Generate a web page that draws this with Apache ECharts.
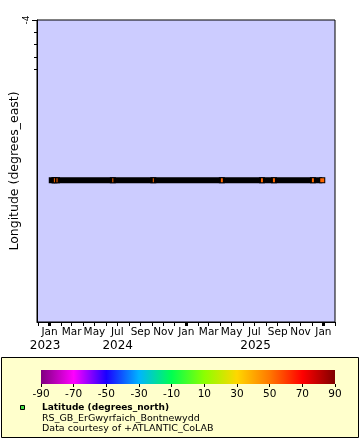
<!DOCTYPE html>
<html>
<head>
<meta charset="utf-8">
<script src="https://cdn.jsdelivr.net/npm/echarts@6/dist/echarts.min.js"></script>
<style>html,body{margin:0;padding:0;background:#fff}#c{width:360px;height:440px}</style>
</head>
<body>
<div id="c"></div>
<script>
// ---- data ----
const obsDates = ['2023-01-07','2023-01-14','2023-01-21','2023-06-19','2023-10-05','2024-04-05','2024-07-21','2024-08-22','2024-12-04','2024-12-29'];
const obsLongitude = [-4.13,-4.13,-4.13,-4.13,-4.13,-4.13,-4.13,-4.13,-4.13,-4.13];
const obsLatitude = [53.1,53.1,53.1,53.1,53.1,53.1,53.1,53.1,53.1,53.1];
const monthTickDates = ['2023-01-01','2023-03-01','2023-05-01','2023-07-01','2023-09-01','2023-11-01','2024-01-01','2024-03-01','2024-05-01','2024-07-01','2024-09-01','2024-11-01','2025-01-01'];
const monthTickLabels = ['Jan','Mar','May','Jul','Sep','Nov','Jan','Mar','May','Jul','Sep','Nov','Jan'];
const yearLabelDates = ['2022-12-20','2023-07-02','2024-07-04'];
const yearLabels = ['2023','2024','2025'];
const lonTickValues = [-4];
const lonTickLabels = ['-4'];
const lonMinorTicks = [-4.01,-4.02,-4.03,-4.04];
const colorbarTicks = [-90,-70,-50,-30,-10,10,30,50,70,90];
const colorbarColors = ['#800080','#ff00ff','#1a00ff','#00b4ff','#00ff50','#8cff00','#ffd700','#ff7800','#ff0000','#800000'];
const legendTitle = 'Latitude (degrees_north)';
const legendLines = ['RS_GB_ErGwyrfaich_Bontnewydd','Data courtesy of +ATLANTIC_CoLAB'];
const yName = 'Longitude (degrees_east)';

// ---- styles (not data) ----
const gapMarkWidth = [0,1,1,1,1,2,2,2,2,4];
const FONT = 'DejaVu Sans';

const parse = s => { const p = s.split('-').map(Number); return Date.UTC(p[0], p[1]-1, p[2]||1); };
const xMin = Date.UTC(2022, 10, 28, 14);
const xMax = parse('2025-02-01');
// monthly minor ticks (axis config)
const monthlyTicks = [];
for (let y = 2022, m = 11; ; ) { const t = Date.UTC(y, m, 1); if (t > xMax) break; if (t >= xMin) monthlyTicks.push(t); m++; if (m > 11) { m = 0; y++; } }
const janTicks = monthTickDates.filter((d,i)=>monthTickLabels[i]==='Jan').map(parse);
const monthVals = monthTickDates.map(parse);
const yearVals = yearLabelDates.map(parse);

const lineData = obsDates.map((d,i)=>[parse(d), obsLongitude[i]]);
const orangeData = [];
obsDates.forEach((d,i)=>{ if (gapMarkWidth[i] > 0) orangeData.push({value:[parse(d), obsLongitude[i], obsLatitude[i]], w: gapMarkWidth[i]}); });

const chart = echarts.init(document.getElementById('c'), null, {renderer:'canvas'});
const stops = colorbarColors.map((c,i)=>({offset: i/(colorbarColors.length-1), color: c}));

chart.setOption({
  animation: false,
  textStyle: {fontFamily: FONT, color: '#000'},
  grid: [
    {left: 37, right: 25, top: 20, height: 302, show: true, backgroundColor: '#ccccff', borderColor: '#000', borderWidth: 1, containLabel: false, outerBoundsMode: 'none'},
    {left: 41, right: 25, top: 370, height: 14, show: false, containLabel: false, outerBoundsMode: 'none'}
  ],
  xAxis: [
    {type: 'value', gridIndex: 0, min: xMin, max: xMax, position: 'bottom', scale: true,
     axisLine: {show: true, onZero: false, lineStyle: {color: '#000', width: 1}},
     splitLine: {show: false},
     axisTick: {show: true, customValues: monthlyTicks, length: 4, lineStyle: {color: '#000', width: 1}},
     axisLabel: {show: true, customValues: monthVals, fontFamily: FONT, fontSize: 10.5, color: '#000', margin: 5,
       formatter: v => { const i = monthVals.indexOf(v); return i >= 0 ? monthTickLabels[i] : ''; }}},
    {type: 'value', gridIndex: 0, min: xMin, max: xMax, position: 'bottom', scale: true,
     axisLine: {show: false, onZero: false}, splitLine: {show: false},
     axisTick: {show: true, customValues: janTicks, length: 4, lineStyle: {color: '#000', width: 3}},
     axisLabel: {show: true, customValues: yearVals, fontFamily: FONT, fontSize: 12, color: '#000', margin: 18,
       formatter: v => { const i = yearVals.indexOf(v); return i >= 0 ? yearLabels[i] : ''; }}},
    {type: 'value', gridIndex: 1, min: -90, max: 90, interval: 20,
     axisLine: {show: false}, splitLine: {show: false},
     axisTick: {show: true, length: 3, lineStyle: {color: '#000', width: 1}},
     axisLabel: {fontFamily: FONT, fontSize: 10.5, color: '#000', margin: 5}}
  ],
  yAxis: [
    {type: 'value', gridIndex: 0, min: -4.245, max: -4, position: 'left', scale: true,
     name: yName, nameLocation: 'middle', nameGap: 16, nameRotate: 90, nameMoveOverlap: false,
     nameTextStyle: {fontFamily: FONT, fontSize: 12.5, color: '#000'},
     axisLine: {show: true, onZero: false, lineStyle: {color: '#000', width: 1}},
     splitLine: {show: false},
     axisTick: {show: true, customValues: lonTickValues, length: 5, lineStyle: {color: '#000', width: 1}},
     axisLabel: {show: true, customValues: lonTickValues, rotate: 90, fontFamily: FONT, fontSize: 9, color: '#000', margin: 6,
       formatter: v => { const i = lonTickValues.indexOf(v); return i >= 0 ? lonTickLabels[i] : ''; }}},
    {type: 'value', gridIndex: 0, min: -4.245, max: -4, position: 'left', scale: true,
     axisLine: {show: false, onZero: false}, splitLine: {show: false}, axisLabel: {show: false},
     axisTick: {show: true, customValues: lonMinorTicks, length: 3, lineStyle: {color: '#000', width: 1}}},
    {type: 'value', gridIndex: 1, min: 0, max: 1, show: false}
  ],
  visualMap: {type: 'continuous', show: false, seriesIndex: 2, dimension: 2, min: -90, max: 90, inRange: {color: colorbarColors}},
  series: [
    {type: 'line', xAxisIndex: 0, yAxisIndex: 0, data: lineData, showSymbol: false, symbol: 'none',
     lineStyle: {color: '#000', width: 6, cap: 'butt'}, z: 2, silent: true},
    {type: 'scatter', xAxisIndex: 0, yAxisIndex: 0, data: lineData, symbol: 'rect', symbolSize: 6,
     itemStyle: {color: '#000', opacity: 1}, z: 3, silent: true},
    {type: 'scatter', xAxisIndex: 0, yAxisIndex: 0, data: orangeData, symbol: 'rect',
     symbolSize: (val, p) => [orangeData[p.dataIndex].w, 4], itemStyle: {opacity: 1, borderWidth: 0}, z: 4, silent: true},
    {type: 'custom', xAxisIndex: 2, yAxisIndex: 2, data: [[-90, 0, 90, 1]], encode: {x: [0, 2], y: [1, 3]}, silent: true,
     renderItem: (params, api) => {
       const p0 = api.coord([api.value(0), api.value(1)]);
       const p1 = api.coord([api.value(2), api.value(3)]);
       return {type: 'rect', shape: {x: p0[0], y: p1[1], width: p1[0]-p0[0], height: p0[1]-p1[1]},
         style: {fill: new echarts.graphic.LinearGradient(0, 0, 1, 0, stops)}};
     }}
  ],
  graphic: [
    {type: 'rect', shape: {x: 1.5, y: 357.5, width: 357, height: 80}, style: {fill: '#ffffcc', stroke: '#000', lineWidth: 1}, z: -10},
    {type: 'rect', shape: {x: 20.5, y: 405.5, width: 4, height: 4}, style: {fill: '#44dd44', stroke: '#000', lineWidth: 1}, z: 10},
    {type: 'text', x: 42, y: 408, style: {text: legendTitle, font: 'bold 9px "DejaVu Sans"', fill: '#000', verticalAlign: 'middle'}, z: 10},
    {type: 'text', x: 42, y: 418.5, style: {text: legendLines[0], font: '9.5px "DejaVu Sans"', fill: '#000', verticalAlign: 'middle'}, z: 10},
    {type: 'text', x: 42, y: 428.5, style: {text: legendLines[1], font: '9.5px "DejaVu Sans"', fill: '#000', verticalAlign: 'middle'}, z: 10}
  ]
});
</script>
</body>
</html>
